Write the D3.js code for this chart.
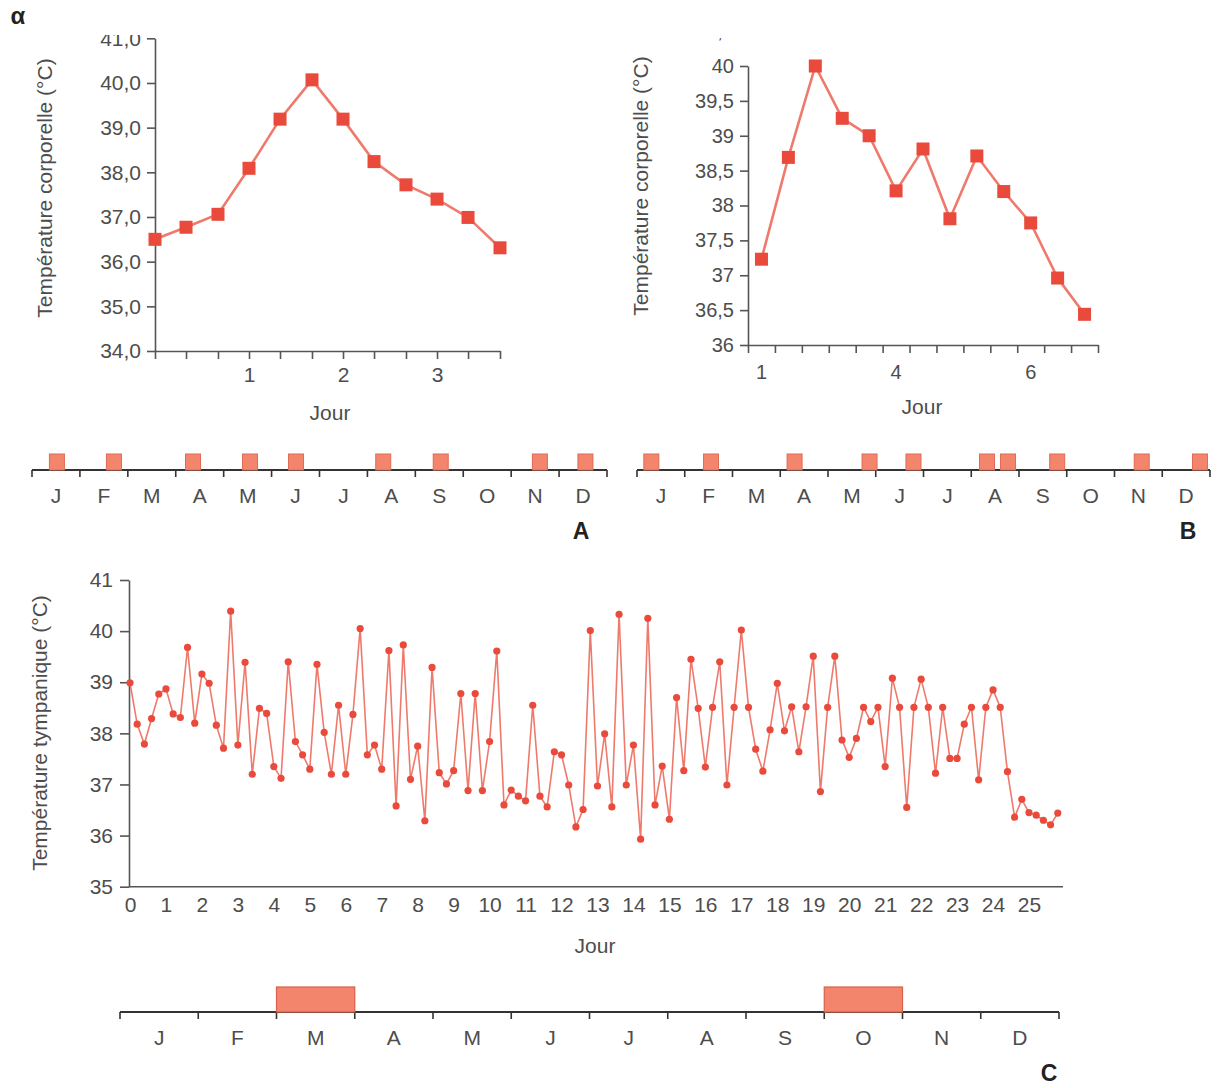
<!DOCTYPE html>
<html>
<head>
<meta charset="utf-8">
<script src="https://cdn.jsdelivr.net/npm/d3@7"></script>
<style>
  body { margin: 0; background: #fff; }
  svg text { font-family: "Liberation Sans", Arial, Helvetica, sans-serif; }
</style>
</head>
<body>
<svg id="fig" width="1224" height="1088"></svg>
<script>
// ---- data ----
const months = ["J", "F", "M", "A", "M", "J", "J", "A", "S", "O", "N", "D"];

// panel A : one reading every 8 h
const timesA = [0, 0.33, 0.67, 1, 1.33, 1.67, 2, 2.33, 2.67, 3, 3.33, 3.67];
const tempA = [36.5, 36.77, 37.06, 38.09, 39.19, 40.07, 39.19, 38.24, 37.72, 37.4, 36.99, 36.31];
const yTicksA = [34, 35, 36, 37, 38, 39, 40, 41];
const feverA = [0.52, 1.71, 3.36, 4.55, 5.51, 7.33, 8.53, 10.6, 11.55];   // month position of each episode

// panel B : 13 readings, day labels under readings 1, 6 and 11
const tempB = [37.23, 38.69, 40.0, 39.25, 39.0, 38.21, 38.81, 37.81, 38.71, 38.2, 37.75, 36.96, 36.44];
const dayLabelsB = ["1", "4", "6"];
const dayLabelIdxB = [0, 5, 10];
const yTicksB = [36, 36.5, 37, 37.5, 38, 38.5, 39, 39.5, 40, 40.5];
const feverB = [0.3, 1.55, 3.3, 4.87, 5.79, 7.33, 7.77, 8.8, 10.57, 11.79];

// panel C : 5 readings a day
const tempC = [
  38.99, 38.18, 37.79, 38.29, 38.77, 38.87, 38.38, 38.31, 39.68, 38.20,
  39.16, 38.98, 38.16, 37.71, 40.39, 37.77, 39.39, 37.20, 38.49, 38.39,
  37.35, 37.12, 39.40, 37.84, 37.58, 37.30, 39.35, 38.02, 37.20, 38.55,
  37.20, 38.37, 40.05, 37.58,
  37.77, 37.30, 39.62, 36.58, 39.73, 37.10, 37.75, 36.29, 39.29, 37.23,
  37.01, 37.27, 38.78, 36.88, 38.78, 36.88, 37.84, 39.61, 36.60, 36.89,
  36.77, 36.68, 38.55, 36.77, 36.56, 37.64, 37.58, 36.99, 36.17, 36.51,
  40.01, 36.97, 37.99, 36.56,
  40.33, 36.99, 37.77, 35.93, 40.25, 36.60, 37.36, 36.32, 38.70, 37.27,
  39.45, 38.49, 37.34, 38.51, 39.40, 36.99, 38.51, 40.02, 38.51, 37.69,
  37.26, 38.07, 38.98, 38.05, 38.52, 37.64, 38.52, 39.51, 36.86, 38.51,
  39.51, 37.87, 37.53,
  37.90, 38.51, 38.23, 38.51, 37.35, 39.08, 38.51, 36.55, 38.51, 39.06,
  38.51, 37.22, 38.51, 37.51, 37.51, 38.18, 38.51, 37.09, 38.51, 38.85,
  38.51, 37.25, 36.36, 36.71, 36.45, 36.40, 36.30, 36.21, 36.44
];
const readingsPerDayC = 5;
const yTicksC = [35, 36, 37, 38, 39, 40, 41];
const xTicksC = d3.range(0, 26);
const feverC = [[2, 3], [9, 10]];   // start / end month (March, October)

// ---- styles ----
const axisColor = "#555";
const textColor = "#4d4d4d";
const lineRed = "#ef7a6c";
const markRed = "#ea4a3b";
const stripRed = "#f4856d";

let svg = d3.select("#fig");

function styleAxis(g, fontSize) {
  g.select(".domain").attr("stroke", axisColor).attr("stroke-width", 1.6);
  g.selectAll(".tick line").attr("stroke", axisColor).attr("stroke-width", 1.6);
  g.selectAll(".tick text").attr("fill", textColor).style("font-size", fontSize + "px");
}

function label(x, y, txt, size, rotate, weight) {
  let t = svg.append("text")
    .attr("x", x).attr("y", y)
    .attr("text-anchor", "middle")
    .attr("fill", weight ? "#222" : textColor)
    .style("font-size", size + "px")
    .style("font-weight", weight || "normal")
    .text(txt);
  if (rotate) t.attr("transform", "rotate(-90," + x + "," + y + ")");
  return t;
}

// month strip with red episode marks
function strip(x0, x1, y, marks, blocks) {
  let m = d3.scaleLinear().domain([0, 12]).range([x0, x1]);
  let g = svg.append("g");
  g.append("line").attr("x1", x0).attr("x2", x1).attr("y1", y).attr("y2", y)
    .attr("stroke", "#333").attr("stroke-width", 1.8);
  g.selectAll(".mt").data(d3.range(13)).enter().append("line")
    .attr("x1", d => m(d)).attr("x2", d => m(d))
    .attr("y1", y).attr("y2", y + 7)
    .attr("stroke", "#333").attr("stroke-width", 1.6);
  g.selectAll(".ml").data(months).enter().append("text")
    .attr("x", (d, i) => m(i + 0.5)).attr("y", y + 33)
    .attr("text-anchor", "middle")
    .attr("fill", textColor)
    .style("font-size", "21px")
    .text(d => d);
  if (marks) {
    g.selectAll(".sq").data(marks).enter().append("rect")
      .attr("x", d => m(d) - 7.5).attr("y", y - 16)
      .attr("width", 15).attr("height", 16)
      .attr("fill", stripRed).attr("stroke", "#e06a55").attr("stroke-width", 1);
  }
  if (blocks) {
    g.selectAll(".bk").data(blocks).enter().append("rect")
      .attr("x", d => m(d[0])).attr("y", y - 25)
      .attr("width", d => m(d[1]) - m(d[0])).attr("height", 25)
      .attr("fill", stripRed).attr("stroke", "#d8604c").attr("stroke-width", 1.2);
  }
}

// ---------------- panel A ----------------
let xA = d3.scaleLinear().domain([0, 3.67]).range([155, 500]);
let yA = d3.scaleLinear().domain([34, 41]).range([351, 38.3]);

let gAy = svg.append("g").attr("transform", "translate(155,0)")
  .call(d3.axisLeft(yA).tickValues(yTicksA).tickSize(8).tickSizeOuter(0).tickPadding(6)
    .tickFormat(d => d.toFixed(1).replace(".", ",")));
styleAxis(gAy, 21);
let gAx = svg.append("g").attr("transform", "translate(0,351)")
  .call(d3.axisBottom(xA).tickValues(timesA).tickSize(8).tickSizeOuter(0).tickPadding(8)
    .tickFormat(d => (d > 0 && Math.abs(d - Math.round(d)) < 0.01) ? Math.round(d) : ""));
styleAxis(gAx, 21);

svg.append("path").datum(tempA)
  .attr("fill", "none").attr("stroke", lineRed).attr("stroke-width", 2.6)
  .attr("d", d3.line().x((d, i) => xA(timesA[i])).y(d => yA(d)));
svg.selectAll(".ptA").data(tempA).enter().append("rect")
  .attr("x", (d, i) => xA(timesA[i]) - 6.5).attr("y", d => yA(d) - 6.5)
  .attr("width", 13).attr("height", 13).attr("fill", markRed);

// top label is cut in the original
svg.append("rect").attr("x", 60).attr("y", 0).attr("width", 92).attr("height", 35).attr("fill", "#fff");

label(52, 188, "Température corporelle (°C)", 21, true);
label(330, 420, "Jour", 21);
strip(32, 607, 470, feverA);
label(581, 539, "A", 23, false, "bold");

// ---------------- panel B ----------------
let xB = d3.scaleLinear().domain([0, tempB.length]).range([748, 1098]);
let yB = d3.scaleLinear().domain([36, 40]).range([345, 66]);

let gBy = svg.append("g").attr("transform", "translate(748,0)")
  .call(d3.axisLeft(yB).tickValues(yTicksB).tickSize(8).tickSizeOuter(0).tickPadding(6)
    .tickFormat(d => String(d).replace(".", ",")));
styleAxis(gBy, 20);
let gBx = svg.append("g").attr("transform", "translate(0,345)")
  .call(d3.axisBottom(xB).tickValues(d3.range(tempB.length + 1)).tickSize(8).tickSizeOuter(0).tickFormat(""));
styleAxis(gBx, 20);
gBx.selectAll(".dl").data(dayLabelsB).enter().append("text")
  .attr("x", (d, i) => xB(dayLabelIdxB[i] + 0.5)).attr("y", 34)
  .attr("text-anchor", "middle").attr("fill", textColor)
  .style("font-size", "20px").text(d => d);

svg.append("path").datum(tempB)
  .attr("fill", "none").attr("stroke", lineRed).attr("stroke-width", 2.6)
  .attr("d", d3.line().x((d, i) => xB(i + 0.5)).y(d => yB(d)));
svg.selectAll(".ptB").data(tempB).enter().append("rect")
  .attr("x", (d, i) => xB(i + 0.5) - 6.5).attr("y", d => yB(d) - 6.5)
  .attr("width", 13).attr("height", 13).attr("fill", markRed);

svg.append("rect").attr("x", 680).attr("y", 0).attr("width", 75).attr("height", 38).attr("fill", "#fff");

label(648, 186, "Température corporelle (°C)", 21, true);
label(922, 414, "Jour", 21);
strip(637, 1210, 470, feverB);
label(1188, 539, "B", 23, false, "bold");

// ---------------- panel C ----------------
let xC = d3.scaleLinear().domain([0, 25]).range([130, 1029]);
let yC = d3.scaleLinear().domain([35, 41]).range([886.7, 580]);

let gCy = svg.append("g").attr("transform", "translate(129,0)")
  .call(d3.axisLeft(yC).tickValues(yTicksC).tickSize(9).tickSizeOuter(0).tickPadding(7)
    .tickFormat(d3.format("d")));
styleAxis(gCy, 21);
let gCx = svg.append("g").attr("transform", "translate(0,886.7)")
  .call(d3.axisBottom(xC).tickValues(xTicksC).tickSize(0).tickSizeOuter(0).tickPadding(10)
    .tickFormat(d3.format("d")));
styleAxis(gCx, 21);
gCx.select(".domain").attr("d", "M129,0H1063");

svg.append("path").datum(tempC)
  .attr("fill", "none").attr("stroke", lineRed).attr("stroke-width", 1.6)
  .attr("d", d3.line().x((d, i) => xC(i / readingsPerDayC)).y(d => yC(d)));
svg.selectAll(".ptC").data(tempC).enter().append("circle")
  .attr("cx", (d, i) => xC(i / readingsPerDayC)).attr("cy", d => yC(d))
  .attr("r", 3.6).attr("fill", markRed);

label(47, 733, "Température tympanique (°C)", 21, true);
label(595, 953, "Jour", 21);
strip(120, 1059, 1012, null, feverC);
label(1049, 1081, "C", 23, false, "bold");

// panel header
label(18, 24, "α", 24, false, "bold");
</script>
</body>
</html>
